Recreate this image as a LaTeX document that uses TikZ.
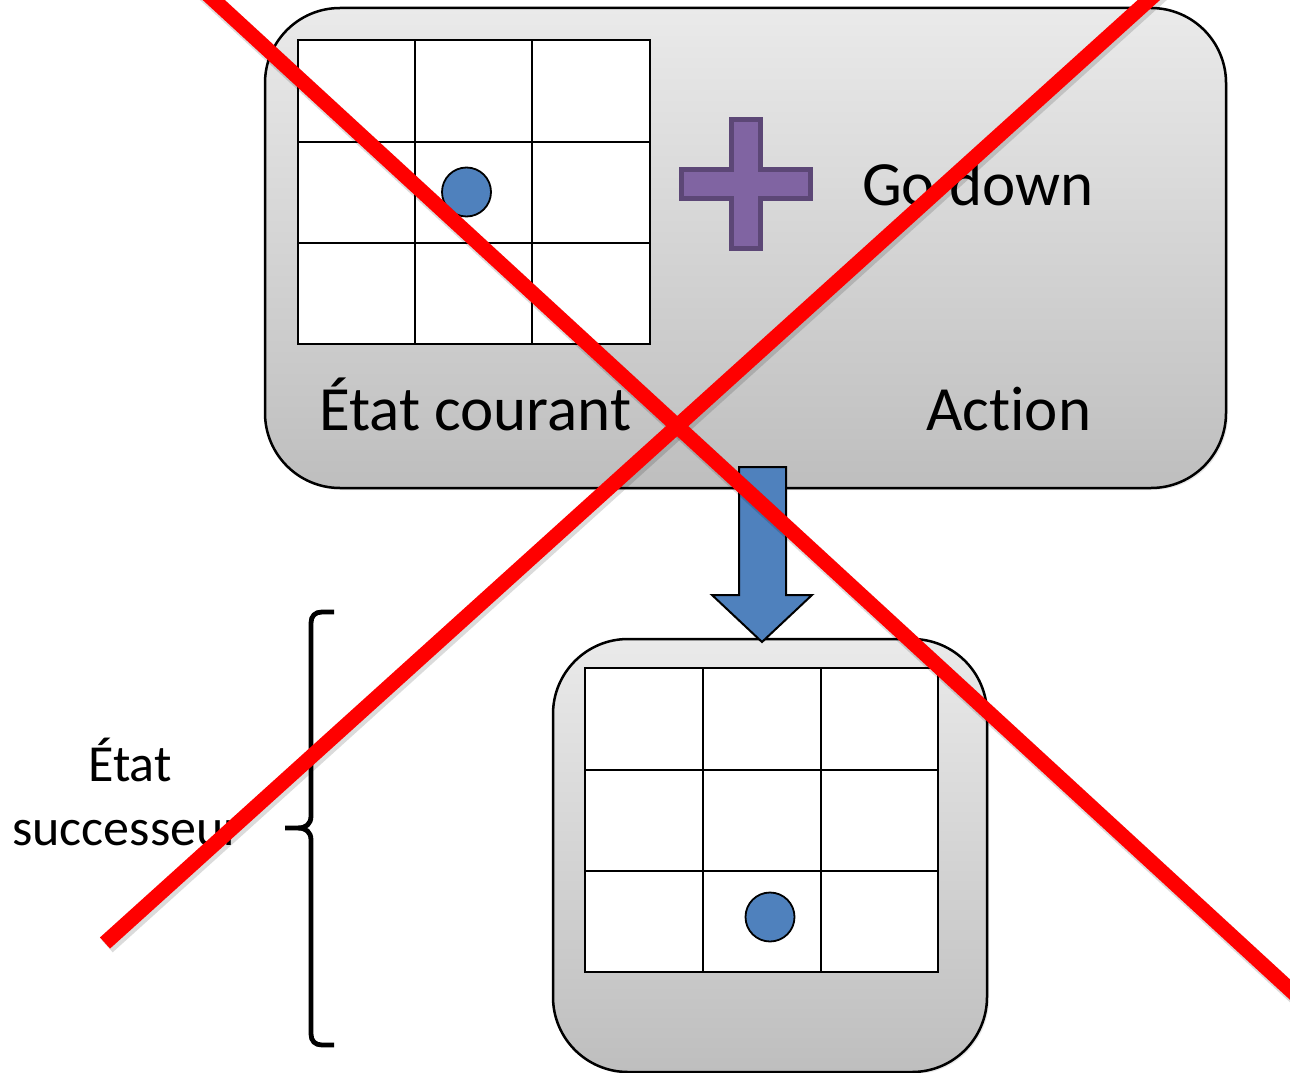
\documentclass[tikz,border=0pt]{standalone}
\usepackage{fontspec}
\setmainfont{Carlito}[Ligatures=NoCommon]
\usetikzlibrary{shadows}

\definecolor{dotblue}{RGB}{79,129,189}
\definecolor{crossfill}{RGB}{128,100,162}
\definecolor{crossline}{RGB}{92,71,118}
\definecolor{boxtop}{RGB}{234,234,234}
\definecolor{boxbottom}{RGB}{190,190,190}
\definecolor{strikered}{RGB}{255,0,0}

\tikzset{
  panel/.style={draw=black, line width=2.5pt, rounded corners=75pt,
    top color=boxtop, bottom color=boxbottom, inner sep=0pt,
    drop shadow={shadow xshift=2pt, shadow yshift=-2pt, opacity=0.18}},
  gridline/.style={draw=black, line width=2.5pt},
  token/.style={circle, draw=black, line width=1.8pt, fill=dotblue,
    minimum size=49pt, inner sep=0pt},
  bigtext/.style={font=\fontsize{63}{75}\selectfont, inner sep=0pt},
  sidetext/.style={font=\fontsize{52}{64}\selectfont, inner sep=0pt},
  movearrow/.style={draw=black, line width=2pt, fill=dotblue, line join=miter},
  plusmark/.style={draw=crossline, line width=5pt, fill=crossfill, line join=miter},
  bracket/.style={draw=black, line width=4.8pt},
  strike/.style={draw=strikered, line width=15pt},
  strikeshadow/.style={draw=black, opacity=0.14, line width=17pt},
}

\begin{document}
\begin{tikzpicture}[x=1pt, y=-1pt]
  \useasboundingbox (0,0) rectangle (1290,1073);
  \clip (0,0) rectangle (1290,1073);

  % panels
  \node[panel, minimum width=961pt, minimum height=480pt] (top) at (745.5,248) {};
  \node[panel, minimum width=434pt, minimum height=433pt] (bot) at (770,855.5) {};

  % current state grid
  \draw[gridline, fill=white] (298,40) rectangle (650,344);
  \foreach \x in {415,532} \draw[gridline] (\x,40) -- (\x,344);
  \foreach \y in {142,243} \draw[gridline] (298,\y) -- (650,\y);
  \node[token] (agent1) at (466.5,192) {};

  % successor grid
  \draw[gridline, fill=white] (585,668) rectangle (938,972);
  \foreach \x in {703,821} \draw[gridline] (\x,668) -- (\x,972);
  \foreach \y in {770,871} \draw[gridline] (585,\y) -- (938,\y);
  \node[token] (agent2) at (770,917) {};

  % plus sign
  \draw[plusmark] (731.5,119.5) -- (760.5,119.5) -- (760.5,169.5) -- (810.5,169.5)
    -- (810.5,198.5) -- (760.5,198.5) -- (760.5,248.5) -- (731.5,248.5)
    -- (731.5,198.5) -- (681.5,198.5) -- (681.5,169.5) -- (731.5,169.5) -- cycle;

  % labels
  \node[bigtext, anchor=base west] (go) at (862,205) {Go down};
  \node[bigtext, anchor=base west] (cur) at (319,430) {État courant};
  \node[bigtext, anchor=base west] (act) at (926,430) {Action};
  \node[sidetext, anchor=base] (succa) at (130,781) {État};
  \node[sidetext, anchor=base] (succb) at (127,845) {successeur};

  % transition arrow
  \coordinate (tip) at (762,642);
  \draw[movearrow] (739,467) -- (786,467) -- (786,595) -- (812,595) -- (tip)
    -- (712,595) -- (739,595) -- cycle;

  % brace
  \draw[bracket] (334,612) -- (322,612) .. controls (315,612) and (311,616) .. (311,623)
    -- (311,816) .. controls (311,824) and (306,828) .. (298,828) -- (285,828);
  \draw[bracket] (298,828) .. controls (306,828) and (311,832) .. (311,840)
    -- (311,1034) .. controls (311,1041) and (315,1045) .. (322,1045) -- (334,1045);

  % strike-through
  \coordinate (s1a) at (192,-20);
  \coordinate (s1b) at (1310,1008);
  \coordinate (s2a) at (1171,-20);
  \coordinate (s2b) at (105,943);
  \draw[strikeshadow] ([shift={(2,3)}]s1a) -- ([shift={(2,3)}]s1b);
  \draw[strikeshadow] ([shift={(2,3)}]s2a) -- ([shift={(2,3)}]s2b);
  \draw[strike] (s1a) -- (s1b);
  \draw[strike] (s2a) -- (s2b);
\end{tikzpicture}
\end{document}
